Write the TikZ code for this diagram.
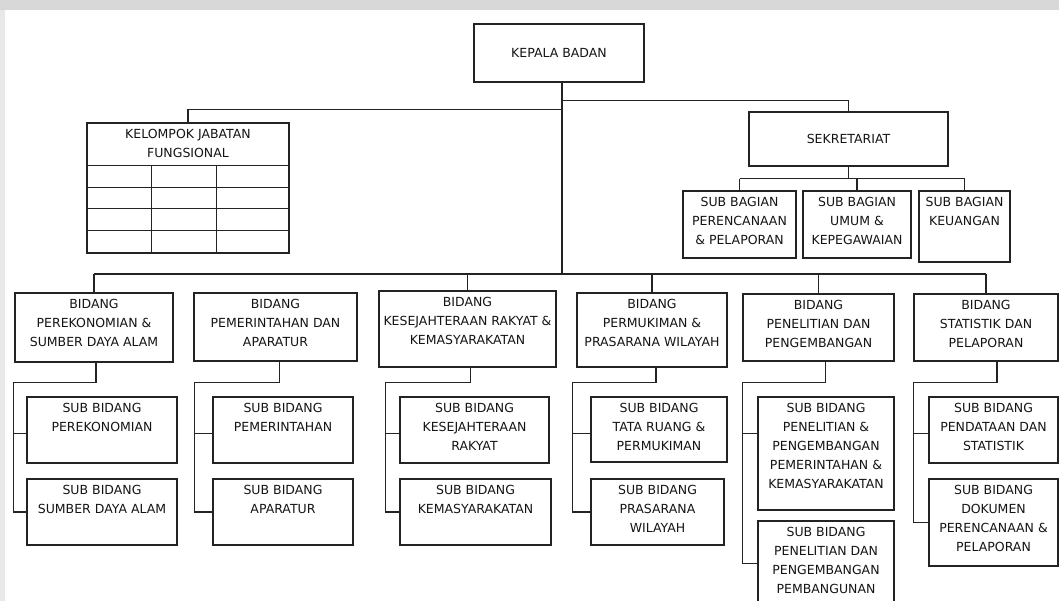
\documentclass[tikz,border=0pt]{standalone}
\usepackage{fontspec}
\setmainfont{DejaVu Sans}
\definecolor{LineGray}{RGB}{35,35,35}
\definecolor{TextGray}{RGB}{20,20,20}
\definecolor{BandGray}{RGB}{216,216,216}
\newcommand{\orgfont}{\fontsize{12.5}{19}\selectfont}
\tikzset{
  unit/.style 2 args={draw=LineGray,line width=1.3pt,minimum width=#1pt,minimum height=#2pt,inner sep=0pt,font=\orgfont,text=TextGray},
  boxtext/.style={anchor=north,align=center,inner sep=0pt,yshift=-6.5pt,font=\orgfont,text=TextGray},
  link/.style={draw=LineGray,line width=1.3pt}
}
\begin{document}
\begin{tikzpicture}[x=1pt,y=-1pt]
\useasboundingbox (0,0) rectangle (1059,601);
\fill[BandGray] (0,0) rectangle (1059,10);
\fill[BandGray!60] (0,10) rectangle (5,601);

% pimpinan dan sekretariat
\node[unit={170}{58}] (kb) at (559,53) {KEPALA BADAN};
\node[unit={202}{130},label={[boxtext]north:{KELOMPOK JABATAN\\FUNGSIONAL}}] (kjf) at (188,188) {};
\node[unit={199}{54}] (sek) at (848.5,139) {SEKRETARIAT};
\node[unit={113}{67},label={[boxtext]north:{SUB BAGIAN\\PERENCANAAN\\\& PELAPORAN}}] (sg1) at (739.5,224.5) {};
\node[unit={108}{67},label={[boxtext]north:{SUB BAGIAN\\UMUM \&\\KEPEGAWAIAN}}] (sg2) at (857,224.5) {};
\node[unit={91}{71},label={[boxtext]north:{SUB BAGIAN\\KEUANGAN}}] (sg3) at (964.5,226.5) {};

% bidang
\node[unit={158}{69},label={[boxtext]north:{BIDANG\\PEREKONOMIAN \&\\SUMBER DAYA ALAM}}] (b1) at (94,327.5) {};
\node[unit={163}{68},label={[boxtext]north:{BIDANG\\PEMERINTAHAN DAN\\APARATUR}}] (b2) at (275.5,327) {};
\node[unit={177}{76},label={[boxtext]north:{BIDANG\\KESEJAHTERAAN RAKYAT \&\\KEMASYARAKATAN}}] (b3) at (467.5,329) {};
\node[unit={150}{74},label={[boxtext]north:{BIDANG\\PERMUKIMAN \&\\PRASARANA WILAYAH}}] (b4) at (652,330) {};
\node[unit={151}{67},label={[boxtext]north:{BIDANG\\PENELITIAN DAN\\PENGEMBANGAN}}] (b5) at (818.5,327.5) {};
\node[unit={144}{67},label={[boxtext]north:{BIDANG\\STATISTIK DAN\\PELAPORAN}}] (b6) at (986,327.5) {};

% sub bidang
\node[unit={150}{66},label={[boxtext]north:{SUB BIDANG\\PEREKONOMIAN}}] (s1a) at (102,430) {};
\node[unit={150}{66},label={[boxtext]north:{SUB BIDANG\\SUMBER DAYA ALAM}}] (s1b) at (102,512) {};
\node[unit={140}{66},label={[boxtext]north:{SUB BIDANG\\PEMERINTAHAN}}] (s2a) at (283,430) {};
\node[unit={140}{66},label={[boxtext]north:{SUB BIDANG\\APARATUR}}] (s2b) at (283,512) {};
\node[unit={149}{66},label={[boxtext]north:{SUB BIDANG\\KESEJAHTERAAN\\RAKYAT}}] (s3a) at (474.5,430) {};
\node[unit={151}{66},label={[boxtext]north:{SUB BIDANG\\KEMASYARAKATAN}}] (s3b) at (475.5,512) {};
\node[unit={136}{65},label={[boxtext]north:{SUB BIDANG\\TATA RUANG \&\\PERMUKIMAN}}] (s4a) at (659,429.5) {};
\node[unit={133}{66},label={[boxtext]north:{SUB BIDANG\\PRASARANA\\WILAYAH}}] (s4b) at (657.5,512) {};
\node[unit={136}{113},label={[boxtext]north:{SUB BIDANG\\PENELITIAN \&\\PENGEMBANGAN\\PEMERINTAHAN \&\\KEMASYARAKATAN}}] (s5a) at (826,453.5) {};
\node[unit={136}{85},label={[boxtext]north:{SUB BIDANG\\PENELITIAN DAN\\PENGEMBANGAN\\PEMBANGUNAN}}] (s5b) at (826,563.5) {};
\node[unit={129}{66},label={[boxtext]north:{SUB BIDANG\\PENDATAAN DAN\\STATISTIK}}] (s6a) at (993.5,430) {};
\node[unit={129}{87},label={[boxtext]north:{SUB BIDANG\\DOKUMEN\\PERENCANAAN \&\\PELAPORAN}}] (s6b) at (993.5,522.5) {};

% tabel jabatan fungsional
\foreach \dy in {43,65,86,108}
  \draw[link] ([yshift=-\dy pt]kjf.north west) -- ([yshift=-\dy pt]kjf.north east);
\foreach \dx in {65,130}
  \draw[link] ([xshift=\dx pt,yshift=-43pt]kjf.north west) -- ([xshift=\dx pt]kjf.south west);

% garis komando
\coordinate (bus) at (562,274);
\draw[link] ([xshift=3pt]kb.south) -- (bus);
\draw[link] ([xshift=3pt,yshift=-18pt]kb.south) -| (sek.north);
\draw[link] ([xshift=3pt,yshift=-27pt]kb.south) -| (kjf.north);
\draw[link] (b1.north |- bus) -- (b6.north |- bus);
\foreach \bd in {b1,b3,b4,b5,b6}
  \draw[link] (\bd.north |- bus) -- (\bd.north);

\draw[link] (sek.south) -- ++(0,12) coordinate (sekbus);
\draw[link] (sg1.north |- sekbus) -- (sg3.north |- sekbus);
\foreach \sg in {sg1,sg2,sg3}
  \draw[link] (\sg.north |- sekbus) -- (\sg.north);

\foreach \bd/\sa/\sb/\dx/\gap in {b1/s1a/s1b/2/13,b2/s2a/s2b/4/18,b3/s3a/s3b/3/14,b4/s4a/s4b/4/18,b5/s5a/s5b/7/15,b6/s6a/s6b/11/15}{
  \draw[link] ([xshift=\dx pt]\bd.south) |- ([xshift=-\gap pt,yshift=14pt]\sa.north west) |- (\sb.west);
  \draw[link] ([xshift=-\gap pt,yshift=-37pt]\sa.north west) -- ([yshift=-37pt]\sa.north west);
}
\end{tikzpicture}
\end{document}
